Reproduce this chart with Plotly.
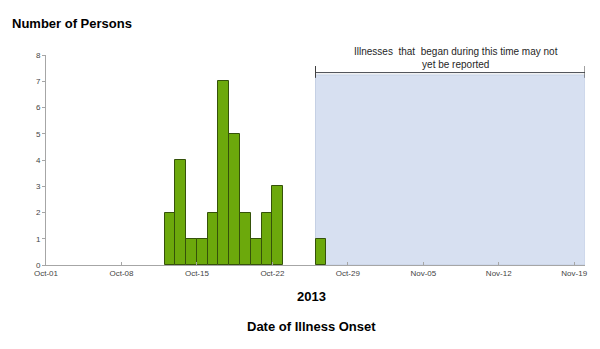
import plotly.graph_objects as go

# Data
dates = ["2013-10-12", "2013-10-13", "2013-10-14", "2013-10-15", "2013-10-16",
         "2013-10-17", "2013-10-18", "2013-10-19", "2013-10-20", "2013-10-21",
         "2013-10-22", "2013-10-26"]
persons = [2, 4, 1, 1, 2, 7, 5, 2, 1, 2, 3, 1]

tick_dates = ["2013-10-01", "2013-10-08", "2013-10-15", "2013-10-22",
              "2013-10-29", "2013-11-05", "2013-11-12", "2013-11-19"]
tick_labels = ["Oct-01", "Oct-08", "Oct-15", "Oct-22",
               "Oct-29", "Nov-05", "Nov-12", "Nov-19"]

x_range = ["2013-10-01", "2013-11-20"]
shade_start = "2013-10-26"
shade_end = "2013-11-20"
shade_top = 7.24
bracket_y = 7.33
note_text = "Illnesses  that  began during this time may not<br>yet be reported"

DAY_MS = 86400000

fig = go.Figure()

# shaded region (behind bars)
fig.add_shape(type="rect", xref="x", yref="y", x0=shade_start, x1=shade_end,
              y0=0, y1=shade_top, fillcolor="#D7E0F1",
              line=dict(color="#C5D0E4", width=1), layer="below")
# bracket
fig.add_shape(type="line", xref="x", yref="y", x0=shade_start, x1=shade_end,
              y0=bracket_y, y1=bracket_y, line=dict(color="#454850", width=1))
fig.add_shape(type="line", xref="x", yref="y", x0=shade_start, x1=shade_start,
              y0=bracket_y - 0.2, y1=bracket_y + 0.25, line=dict(color="#404040", width=1))
fig.add_shape(type="line", xref="x", yref="y", x0=shade_end, x1=shade_end,
              y0=bracket_y - 0.2, y1=bracket_y + 0.25, line=dict(color="#404040", width=1))

fig.add_trace(go.Bar(
    x=dates, y=persons, width=DAY_MS, offset=0,
    marker=dict(color="#6CA90C", line=dict(color="#35520A", width=1)),
))

fig.add_annotation(text=note_text, xref="x", yref="paper",
                   x="2013-11-08", y=0.986, showarrow=False,
                   font=dict(family="Liberation Sans, Arial", size=10, color="#262626"),
                   align="center", yanchor="middle")

fig.add_annotation(text="<b>Number of Persons</b>", xref="paper", yref="paper",
                   xanchor="left", yanchor="middle", x=-0.0665, y=1.148, showarrow=False,
                   font=dict(family="Liberation Sans, Arial", size=13, color="#000"))
fig.add_annotation(text="<b>2013</b>", xref="paper", yref="paper",
                   x=0.493, y=-0.152, yanchor="middle", showarrow=False,
                   font=dict(family="Liberation Sans, Arial", size=13, color="#000"))
fig.add_annotation(text="<b>Date of Illness Onset</b>", xref="paper", yref="paper",
                   x=0.493, y=-0.295, yanchor="middle", showarrow=False,
                   font=dict(family="Liberation Sans, Arial", size=13, color="#000"))

fig.update_layout(
    width=600, height=349,
    margin=dict(l=46, r=13, t=55, b=84),
    paper_bgcolor="white", plot_bgcolor="white",
    showlegend=False,
    bargap=0,
    font=dict(family="Liberation Sans, Arial", size=8, color="#444"),
    xaxis=dict(type="date", range=x_range, tickmode="array",
               tickvals=tick_dates, ticktext=tick_labels,
               showgrid=False, zeroline=False, showline=True,
               linecolor="#A6A6A6", linewidth=1,
               ticks="inside", ticklen=3, tickcolor="#A6A6A6",
               tickfont=dict(size=8, color="#444")),
    yaxis=dict(range=[0, 8], dtick=1, showgrid=False, zeroline=False,
               showline=True, linecolor="#A6A6A6", linewidth=1,
               ticks="outside", ticklen=3, tickcolor="#A6A6A6",
               tickfont=dict(size=8, color="#444")),
)

fig.write_html("out.html")
